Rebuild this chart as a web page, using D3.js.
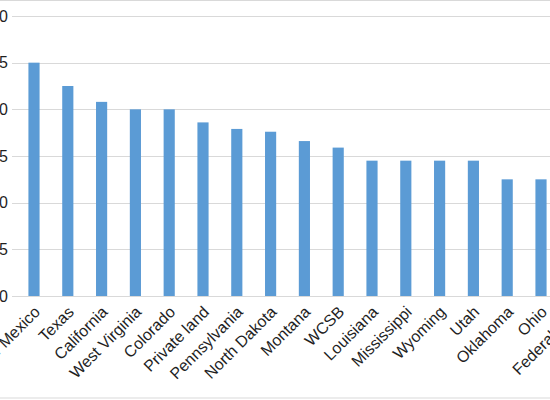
<!DOCTYPE html>
<html>
<head>
<meta charset="utf-8">
<script src="https://cdn.jsdelivr.net/npm/d3@7"></script>
<style>
  body { margin: 0; background: #fff; }
  svg { display: block; font-family: "Liberation Sans", Arial, sans-serif; }
</style>
</head>
<body>
<div class="chart"></div>
<script>
// data
var categories = ["New Mexico", "Texas", "California", "West Virginia", "Colorado",
  "Private land", "Pennsylvania", "North Dakota", "Montana", "WCSB", "Louisiana",
  "Mississippi", "Wyoming", "Utah", "Oklahoma", "Ohio", "Federal land"];
var values = [25, 22.5, 20.8, 20, 20, 18.6, 17.9, 17.6, 16.6, 15.9, 14.5,
  14.5, 14.5, 14.5, 12.5, 12.5, 12.5];
var yTicks = [0, 5, 10, 15, 20, 25, 30];

var W = 550, H = 400;
var svg = d3.select('.chart').append('svg')
  .attr('width', W)
  .attr('height', H);

// outer chart border (only top/bottom show in the crop)
svg.append('rect')
  .attr('x', -5).attr('y', 0.5)
  .attr('width', W + 10).attr('height', 397.5)
  .attr('fill', 'none')
  .attr('stroke', '#d9d9d9');

var step = 33.8;
var x = d3.scaleBand()
  .domain(categories)
  .range([34 - step / 2, 34 - step / 2 + step * categories.length])
  .paddingInner(0.67)
  .paddingOuter(0.335);

var y = d3.scaleLinear()
  .domain([0, 30])
  .range([296, 16]);

// gridlines
svg.append('g')
  .selectAll('line')
  .data(yTicks)
  .enter()
  .append('line')
  .attr('x1', 12).attr('x2', W)
  .attr('y1', d => Math.round(y(d)) + 0.5)
  .attr('y2', d => Math.round(y(d)) + 0.5)
  .attr('stroke', '#d9d9d9')
  .attr('stroke-width', 1);

// y tick labels
svg.append('g')
  .selectAll('text')
  .data(yTicks)
  .enter()
  .append('text')
  .attr('x', 8)
  .attr('y', d => y(d))
  .attr('dy', '0.35em')
  .attr('text-anchor', 'end')
  .attr('font-size', 16)
  .attr('fill', '#1f1f1f')
  .text(d => d);

// bars
svg.append('g')
  .selectAll('rect')
  .data(values)
  .enter()
  .append('rect')
  .attr('x', (d, i) => x(categories[i]))
  .attr('width', x.bandwidth())
  .attr('y', d => y(d))
  .attr('height', d => y(0) - y(d))
  .attr('fill', '#5b9bd5');

// category labels
svg.append('g')
  .selectAll('text')
  .data(categories)
  .enter()
  .append('text')
  .attr('transform', d => {
    var cx = x(d) + x.bandwidth() / 2 + 7;
    return `translate(${cx},${313}) rotate(-45)`;
  })
  .attr('text-anchor', 'end')
  .attr('font-size', 16)
  .attr('fill', '#1f1f1f')
  .text(d => d);
</script>
</body>
</html>
